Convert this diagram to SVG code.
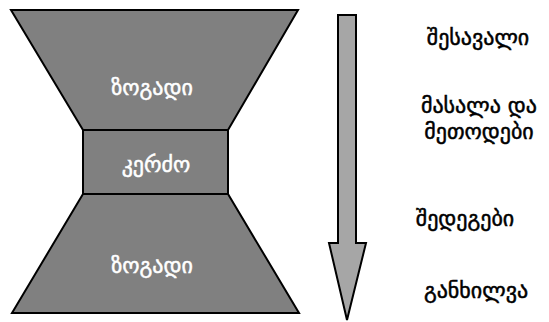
<svg xmlns="http://www.w3.org/2000/svg" width="549" height="322" viewBox="0 0 549 322">
  <style>
    .block { fill: #808080; stroke: #000; stroke-width: 2; stroke-linejoin: miter; }
    .inner { fill: #fff; stroke: #fff; stroke-width: 0.5; font-family: "DejaVu Sans", "Noto Sans", sans-serif; font-size: 22px; text-anchor: middle; }
    .side { fill: #000; stroke: #000; stroke-width: 0.5; font-family: "DejaVu Sans", "Noto Sans", sans-serif; font-size: 22px; text-anchor: middle; }
    .flow { fill: #a6a6a6; stroke: #000; stroke-width: 2; stroke-linejoin: miter; }
  </style>
  <rect width="549" height="322" fill="#fff"/>

  <g id="top-general">
    <polygon class="block" points="11,10 298,10 228,130 83,130"/>
    <text class="inner" x="152" y="95">ზოგადი</text>
  </g>

  <g id="narrow-specific">
    <rect class="block" x="83" y="130" width="145" height="64"/>
    <text class="inner" x="156" y="172">კერძო</text>
  </g>

  <g id="bottom-general">
    <polygon class="block" points="83,194 228,194 299,313 12,313"/>
    <text class="inner" x="152" y="273">ზოგადი</text>
  </g>

  <g id="connectors">
    <polygon class="flow" points="338,15 356,15 356,243 366,243 347,320 329,243 338,243"/>
  </g>

  <g id="sections">
    <text class="side" x="478" y="45">შესავალი</text>
    <text class="side" x="479" y="113">მასალა და</text>
    <text class="side" x="479" y="139">მეთოდები</text>
    <text class="side" x="465" y="226">შედეგები</text>
    <text class="side" x="476" y="298">განხილვა</text>
  </g>
</svg>
